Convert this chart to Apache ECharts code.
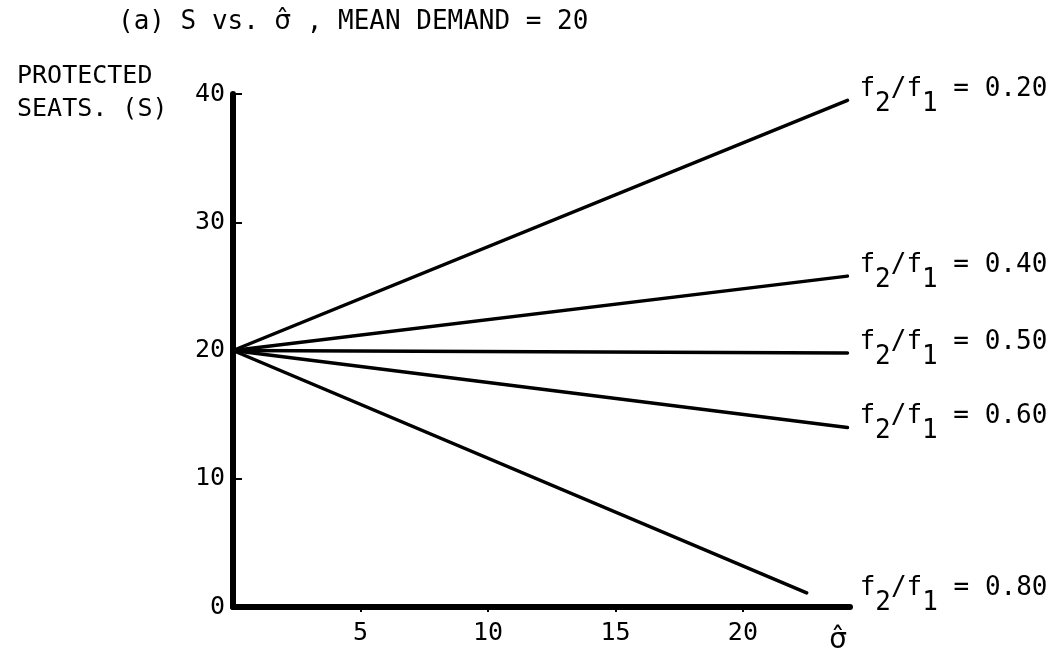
<!DOCTYPE html>
<html><head><meta charset="utf-8">
<script src="https://cdn.jsdelivr.net/npm/echarts@6/dist/echarts.min.js"></script>
<style>html,body{margin:0;background:#fff}#c{width:1060px;height:664px}</style>
</head><body><div id="c"></div>
<script>
// Data
const ratioLabels = ['0.20', '0.40', '0.50', '0.60', '0.80'];
const sigmaStart = [0, 0, 0, 0, 0];
const sigmaEnd = [24.1, 24.1, 24.1, 24.1, 22.5];
const seatsStart = [20, 20, 20, 20, 20];
const seatsEnd = [39.5, 25.8, 19.8, 14.0, 1.1];
const xTickValues = [5, 10, 15, 20];
const yTickValues = [0, 10, 20, 30, 40];
const sigmaHat = '\u03C3\u0302';
const titleParts = ['(a) S vs. ', sigmaHat, ' , MEAN DEMAND = 20'];
const yName = 'PROTECTED\nSEATS. (S)';

const FONT = 'DejaVu Sans Mono';
const SYM = 'DejaVu Sans';
const labelOffsets = [[0, -3.5], [0, -3.5], [0, -3.5], [0, -3.5], [41, 2.5]];

const chart = echarts.init(document.getElementById('c'), null, {renderer: 'canvas'});
const series = ratioLabels.map((r, i) => ({
  type: 'line',
  name: r,
  data: [[sigmaStart[i], seatsStart[i]], [sigmaEnd[i], seatsEnd[i]]],
  symbol: 'none',
  lineStyle: {color: '#000', width: 3.5, cap: 'round'},
  z: 3,
  endLabel: {
    show: true,
    distance: 12,
    offset: labelOffsets[i],
    formatter: () => '{a|f}{s|2}{a|/f}{s|1}{a| = ' + r + '}',
    rich: {
      a: {fontFamily: FONT, fontSize: 26, color: '#000', lineHeight: 26, verticalAlign: 'top'},
      s: {fontFamily: FONT, fontSize: 26, color: '#000', lineHeight: 41, verticalAlign: 'bottom'}
    }
  }
}));

chart.setOption({
  animation: false,
  backgroundColor: '#fff',
  title: [
    {text: '{t|' + titleParts[0] + '}{g|' + titleParts[1] + '}{t|' + titleParts[2] + '}', left: 113, top: 4,
     textStyle: {fontWeight: 'normal', color: '#000',
       rich: {t: {fontFamily: FONT, fontSize: 26, color: '#000'},
              g: {fontFamily: SYM, fontSize: 26, color: '#000'}}}},
    {text: yName, left: 12, top: 55,
     textStyle: {fontFamily: FONT, fontSize: 25, fontWeight: 'normal', color: '#000', lineHeight: 33}}
  ],
  grid: {left: 233, right: 210, top: 94, bottom: 57, containLabel: false},
  xAxis: {
    type: 'value', min: 0, max: 24.2, interval: 5,
    name: sigmaHat, nameLocation: 'end', nameGap: -12,
    nameTextStyle: {fontFamily: SYM, fontSize: 28, color: '#000', align: 'center', verticalAlign: 'top', padding: [20, 0, 0, 0]},
    axisLine: {show: true, lineStyle: {color: '#000', width: 6, cap: 'round'}},
    axisTick: {show: true, length: 5, lineStyle: {color: '#000', width: 2},
      customValues: xTickValues},
    axisLabel: {show: true, margin: 14, fontFamily: FONT, fontSize: 25, color: '#000',
      customValues: xTickValues},
    splitLine: {show: false}
  },
  yAxis: {
    type: 'value', min: 0, max: 40, interval: 10,
    axisLine: {show: true, lineStyle: {color: '#000', width: 6, cap: 'round'}},
    axisTick: {show: true, inside: true, length: 9, lineStyle: {color: '#000', width: 2},
      customValues: yTickValues.filter(v => v > 0)},
    axisLabel: {show: true, margin: 8, fontFamily: FONT, fontSize: 25, color: '#000',
      customValues: yTickValues},
    splitLine: {show: false}
  },
  series: series
});
</script>
</body></html>
